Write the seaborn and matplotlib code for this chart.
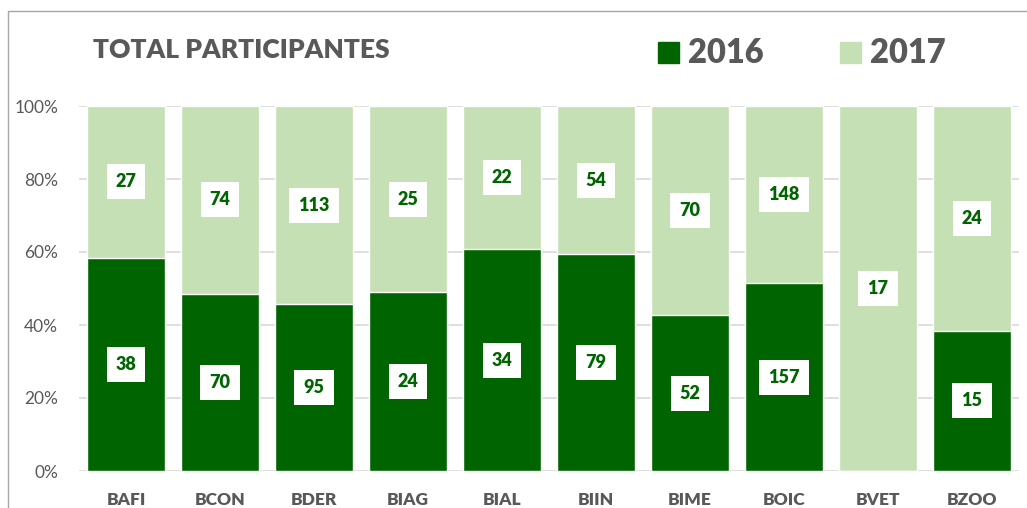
import numpy as np
import pandas as pd
import seaborn as sns
import matplotlib.pyplot as plt
from matplotlib.lines import Line2D
from matplotlib.patches import Rectangle

cursos = ['BAFI', 'BCON', 'BDER', 'BIAG', 'BIAL', 'BIIN', 'BIME', 'BOIC', 'BVET', 'BZOO']
v2016 = [38, 70, 95, 24, 34, 79, 52, 157, 0, 15]
v2017 = [27, 74, 113, 25, 22, 54, 70, 148, 17, 24]

dark = '#006400'
light = '#c5e0b4'
gray = '#595959'

sns.set_style('white')
plt.rcParams['font.family'] = ['Lato', 'DejaVu Sans']

df = pd.DataFrame({'curso': cursos, 'a2016': v2016, 'a2017': v2017})
df['total'] = df['a2016'] + df['a2017']
df['p2016'] = df['a2016'] / df['total'] * 100
df['p100'] = 100.0

fig = plt.figure(figsize=(10.27, 5.08), dpi=100)
ax = fig.add_axes([79 / 1027, 37 / 508, 940 / 1027, 365 / 508])

# grid behind bars
ax.set_axisbelow(True)
ax.yaxis.grid(True, color='#d9d9d9', linewidth=1.2)

sns.barplot(data=df, x='curso', y='p100', color=light, saturation=1, width=0.82, ax=ax)
sns.barplot(data=df, x='curso', y='p2016', color=dark, saturation=1, width=0.82, ax=ax)

ax.set_xlim(-0.5, len(cursos) - 0.5)
ax.set_ylim(0, 100)
ax.set_yticks(np.arange(0, 101, 20))
ax.set_yticklabels([f'{t}%' for t in range(0, 101, 20)], color=gray, fontsize=12.5)
ax.set_xticklabels(cursos, color=gray, fontsize=12.5, fontweight='heavy')
ax.tick_params(axis='x', length=0, pad=15)
ax.tick_params(axis='y', length=0, pad=15)
ax.set_xlabel('')
ax.set_ylabel('')
for s in ax.spines.values():
    s.set_visible(False)

box = dict(boxstyle='square,pad=0.5', facecolor='white', edgecolor='none')
for i, row in df.iterrows():
    if row['a2016'] > 0:
        ax.text(i, row['p2016'] / 2, str(row['a2016']), ha='center', va='center',
                color=dark, fontsize=13, fontweight='heavy', bbox=box)
    if row['a2017'] > 0:
        ax.text(i, (row['p2016'] + 100) / 2, str(row['a2017']), ha='center', va='center',
                color=dark, fontsize=13, fontweight='heavy', bbox=box)

# title and legend
fig.text(93 / 1027, 1 - 50 / 508, 'TOTAL PARTICIPANTES', color=gray, fontsize=19,
         fontweight='heavy', va='center', ha='left')
fig.patches.append(Rectangle((658 / 1027, 1 - 63 / 508), 21 / 1027, 21 / 508,
                             transform=fig.transFigure, color=dark))
fig.text(688 / 1027, 1 - 53 / 508, '2016', color=gray, fontsize=23.5, fontweight='heavy',
         va='center', ha='left')
fig.patches.append(Rectangle((840 / 1027, 1 - 63 / 508), 21 / 1027, 21 / 508,
                             transform=fig.transFigure, color=light))
fig.text(870 / 1027, 1 - 53 / 508, '2017', color=gray, fontsize=23.5, fontweight='heavy',
         va='center', ha='left')

# chart frame (left and top)
fig.lines.append(Line2D([8 / 1027, 8 / 1027], [0, 1 - 11 / 508], transform=fig.transFigure,
                        color='#a6a6a6', linewidth=1))
fig.lines.append(Line2D([8 / 1027, 1], [1 - 11 / 508, 1 - 11 / 508], transform=fig.transFigure,
                        color='#a6a6a6', linewidth=1))

fig.savefig('out.png', dpi=100)
